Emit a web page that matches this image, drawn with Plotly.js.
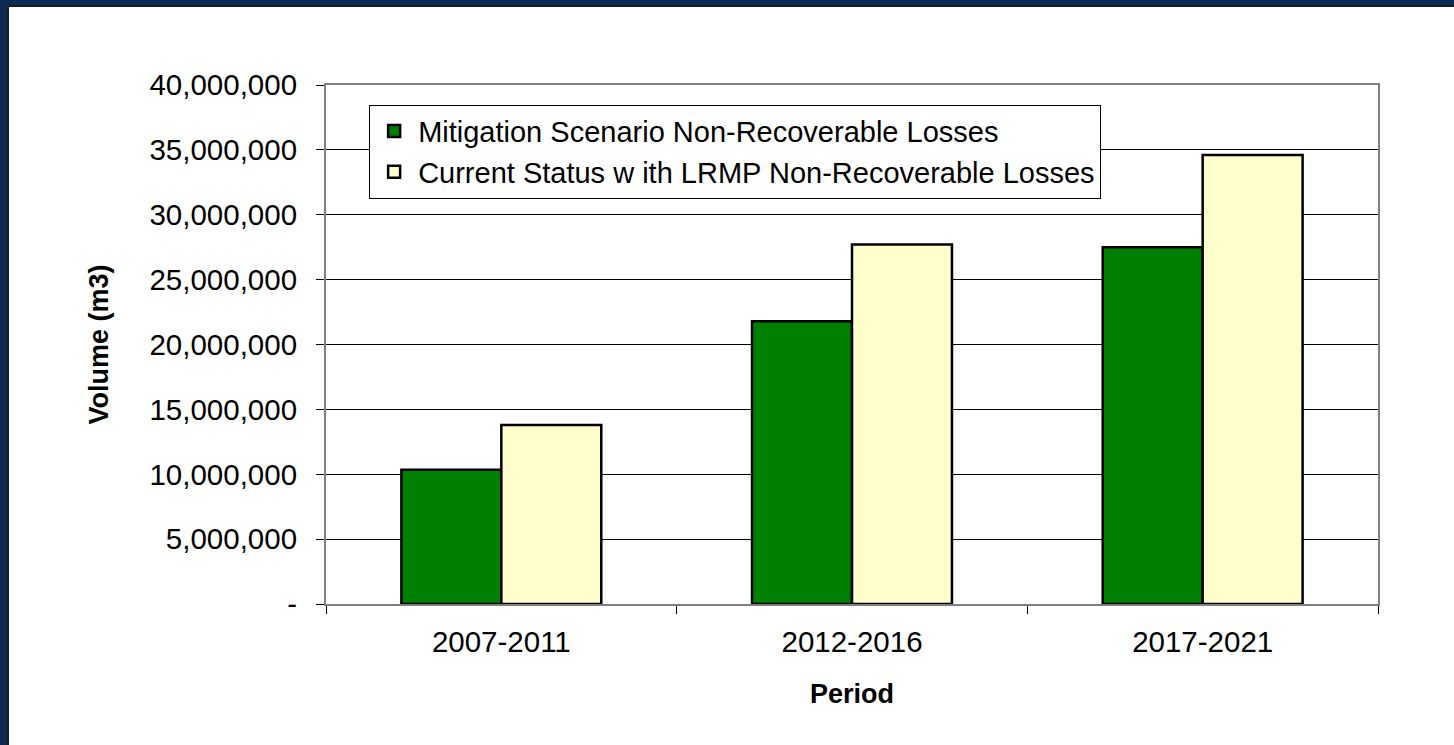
<!DOCTYPE html>
<html>
<head>
<meta charset="utf-8">
<script src="https://cdn.plot.ly/plotly-3.0.1.min.js"></script>
<style>
  html, body { margin: 0; padding: 0; width: 1454px; height: 745px; overflow: hidden; background: #0b2b52; }
  #edge { position: absolute; left: 7px; top: 5px; width: 1447px; height: 740px; background: #1b1b1b; }
  #chart { position: absolute; left: 9px; top: 7px; width: 1445px; height: 738px; background: #ffffff; }
</style>
</head>
<body>
<div id="edge"></div>
<div id="chart"></div>
<script>
// ---- data ----
const periods = ["2007-2011", "2012-2016", "2017-2021"];
const mitigationLosses = [10350000, 21800000, 27500000];
const currentStatusLosses = [13800000, 27700000, 34600000];
const seriesNames = [
  "Mitigation Scenario Non-Recoverable Losses",
  "Current Status w ith LRMP Non-Recoverable Losses"
];
const yTickValues = [0, 5000000, 10000000, 15000000, 20000000, 25000000, 30000000, 35000000, 40000000];
const yTickLabels = ["-", "5,000,000", "10,000,000", "15,000,000", "20,000,000", "25,000,000", "30,000,000", "35,000,000", "40,000,000"];

const FONT = '"Liberation Sans", Arial, sans-serif';

const traces = [
  {
    type: 'bar', name: seriesNames[0], x: periods, y: mitigationLosses,
    marker: { color: '#008000', line: { color: '#000000', width: 2.5 } }
  },
  {
    type: 'bar', name: seriesNames[1], x: periods, y: currentStatusLosses,
    marker: { color: '#FFFFCC', line: { color: '#000000', width: 2.5 } }
  }
];

const layout = {
  width: 1445, height: 738,
  margin: { l: 317, r: 76, t: 78, b: 141 },
  paper_bgcolor: '#ffffff', plot_bgcolor: '#ffffff',
  font: { family: FONT, color: '#000000', size: 29 },
  barmode: 'group', bargap: 0.43, bargroupgap: 0,
  showlegend: true,
  legend: {
    x: 0.041, y: 0.962, xanchor: 'left', yanchor: 'top',
    bgcolor: '#ffffff', bordercolor: '#000000', borderwidth: 1,
    font: { family: FONT, size: 29, color: '#000000' },
    tracegroupgap: 0, itemwidth: 38
  },
  xaxis: {
    type: 'category',
    showline: true, linecolor: '#808080', linewidth: 2, mirror: true,
    ticks: 'outside', tickson: 'boundaries', ticklen: 8, tickcolor: '#000000', tickwidth: 1,
    tickfont: { family: FONT, size: 29.5, color: '#000000' },
    ticklabelstandoff: 11,
    showgrid: false, zeroline: false,
    title: { text: '<b>Period</b>', font: { family: FONT, size: 27, color: '#000000' }, standoff: 27 }
  },
  yaxis: {
    range: [0, 40000000],
    tickvals: yTickValues, ticktext: yTickLabels,
    showline: true, linecolor: '#808080', linewidth: 2, mirror: true,
    ticks: 'outside', ticklen: 8, tickcolor: '#000000', tickwidth: 1,
    tickfont: { family: FONT, size: 29.5, color: '#000000' },
    ticklabelstandoff: 13,
    showgrid: true, gridcolor: '#000000', gridwidth: 1,
    zeroline: false,
    title: { text: '<b>Volume (m3)</b>', font: { family: FONT, size: 27, color: '#000000' }, standoff: 33 }
  }
};

Plotly.newPlot('chart', traces, layout, { displayModeBar: false, staticPlot: true });
</script>
</body>
</html>
